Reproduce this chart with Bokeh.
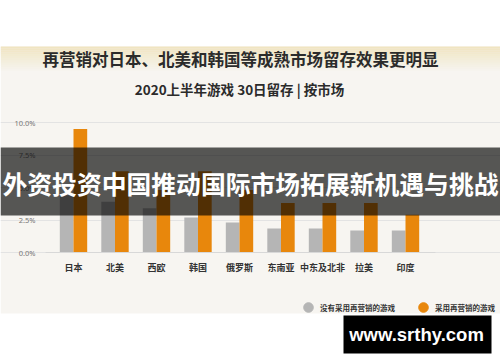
from bokeh.plotting import figure
from bokeh.models import (Range1d, ColumnDataSource, FixedTicker, Label, LinearAxis, Grid,
                          BoxAnnotation, Legend, LegendItem)
from bokeh.transform import dodge
from bokeh.embed import file_html
from bokeh.resources import INLINE

# ---- data ----
markets = ["日本", "北美", "西欧", "韩国", "俄罗斯", "东南亚", "中东及北非", "拉美", "印度"]
no_remarketing = [4.4, 3.9, 3.4, 2.7, 2.3, 1.85, 1.85, 1.7, 1.7]
with_remarketing = [9.5, 6.25, 4.8, 6.25, 4.8, 3.8, 3.8, 3.8, 2.9]
y_ticks = [0, 2.5, 5, 7.5, 10]
y_tick_labels = ["0.0%", "2.5%", "5.0%", "7.5%", "10.0%"]
series_names = ["没有采用再营销的游戏", "采用再营销的游戏"]
title_text = "再营销对日本、北美和韩国等成熟市场留存效果更明显"
subtitle_text = "2020上半年游戏 30日留存 | 按市场"
banner_text = "外资投资中国推动国际市场拓展新机遇与挑战"
watermark_text = "www.srthy.com"

CJK = "Noto Sans CJK SC"
GRAY = "#b5b5b5"
ORANGE = "#e8870c"

W, H = 500, 362
# chart geometry in canvas px: first category centre, spacing, baseline, px per 1%
X0, DX, Y0, DY = 73.0, 41.5, 252.0, 13.0
PLOT_L, PLOT_R = 45.0, 435.0

pos = list(range(len(markets)))
src = ColumnDataSource(dict(pos=pos, a=no_remarketing, b=with_remarketing))

x_range = Range1d(-X0 / DX, (W - X0) / DX)
y_range = Range1d(-(H - Y0) / DY, Y0 / DY)
xl, xr = (PLOT_L - X0) / DX, (PLOT_R - X0) / DX

p = figure(width=W, height=H, output_backend="svg", toolbar_location=None,
           x_range=x_range, y_range=y_range, x_axis_type=None, y_axis_type=None,
           min_border=0)
p.border_fill_color = "white"
p.background_fill_color = "white"
p.outline_line_color = None


def box(l, r, t, b, **kw):
    return BoxAnnotation(left=l, right=r, top=H - t, bottom=H - b,
                         left_units="screen", right_units="screen",
                         top_units="screen", bottom_units="screen", line_color=None, **kw)


def label(x, y, text, **kw):
    return Label(x=x, y=H - y, x_units="screen", y_units="screen", text=text,
                 text_align="center", text_baseline="middle", **kw)


# background image area
p.add_layout(box(0, W, 46, 313, fill_color="#f7f5f1", fill_alpha=1, level="image"))
for i in range(12):
    p.add_layout(box(0, W, 46 + i * 2, 48 + i * 2, fill_color="#efe2b8",
                     fill_alpha=0.85 * (1 - i / 12), level="image"))

# grid
p.add_layout(Grid(dimension=1, ticker=FixedTicker(ticks=y_ticks), bounds=(xl, xr),
                  grid_line_color="#e3e3e3", grid_line_width=1))

r1 = p.vbar(x=dodge("pos", -0.165), top="a", width=0.33, source=src, color=GRAY, line_color=None)
r2 = p.vbar(x=dodge("pos", 0.165), top="b", width=0.33, source=src, color=ORANGE, line_color=None)

# axes drawn at fixed positions inside the canvas
yaxis = LinearAxis(fixed_location=xl, ticker=FixedTicker(ticks=y_ticks),
                   major_label_overrides={t: l for t, l in zip(y_ticks, y_tick_labels)},
                   axis_line_color=None, major_tick_line_color=None, minor_tick_line_color=None,
                   major_label_text_font="Noto Sans", major_label_text_font_size="7.5px",
                   major_label_text_color="#777777", major_label_standoff=4)
p.add_layout(yaxis, "left")

xaxis = LinearAxis(fixed_location=0, ticker=FixedTicker(ticks=pos), bounds=(xl, xr),
                   major_label_overrides={i: m for i, m in zip(pos, markets)},
                   axis_line_color="#d8d8d8", major_tick_line_color=None,
                   minor_tick_line_color=None,
                   major_label_text_font=CJK, major_label_text_font_style="bold",
                   major_label_text_font_size="9px", major_label_text_color="#333333",
                   major_label_standoff=2)
p.add_layout(xaxis, "below")

# titles
p.add_layout(label(240, 58, title_text, text_font=CJK, text_font_size="16.5px",
                   text_font_style="bold", text_color="#2b2b2b"))
p.add_layout(label(239, 88, subtitle_text, text_font=CJK, text_font_size="13.5px",
                   text_font_style="bold", text_color="#2b2b2b"))

# legend (circle markers; proxy renderers carry no visible points)
nan = float("nan")
d1 = p.scatter(x=[nan], y=[nan], marker="circle", size=9, color=GRAY)
d2 = p.scatter(x=[nan], y=[nan], marker="circle", size=9, color=ORANGE)
legend = Legend(items=[LegendItem(label=series_names[0], renderers=[d1]),
                       LegendItem(label=series_names[1], renderers=[d2])],
                orientation="horizontal", location=(296, H - 319),
                background_fill_alpha=0, border_line_color=None,
                label_text_font=CJK, label_text_font_size="7.5px", label_text_color="#333333",
                label_text_font_style="bold",
                glyph_width=24, glyph_height=24, label_standoff=-2, spacing=16, padding=2,
                margin=0)
p.add_layout(legend)

# overlay banner
p.add_layout(box(0, W, 147, 215, fill_color="black", fill_alpha=0.65, level="overlay"))
p.add_layout(label(250, 182, banner_text, text_font=CJK, text_font_size="24.8px",
                   text_font_style="bold", text_color="white", level="overlay"))

# watermark
p.add_layout(box(343, 491, 315, 353, fill_color="black", fill_alpha=1, level="overlay"))
p.add_layout(label(416, 334, watermark_text, text_font="Liberation Sans",
                   text_font_size="18.5px", text_font_style="bold", text_color="white",
                   level="overlay"))

open("out.html", "w").write(file_html(p, INLINE))
